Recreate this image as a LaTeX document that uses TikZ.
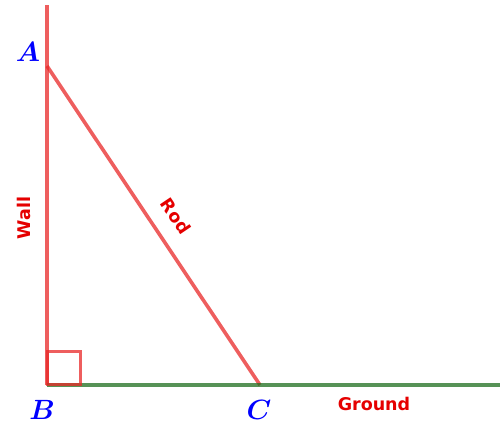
\documentclass[tikz,border=0pt]{standalone}
\usepackage{fontspec}
\newfontfamily\tagfont{DejaVu Sans}
\usetikzlibrary{positioning,calc}
\usepackage{xcolor}
\definecolor{rodred}{RGB}{232,40,40}
\definecolor{groundgreen}{RGB}{30,110,30}

\begin{document}
\begin{tikzpicture}[x=1pt,y=1pt,
    member/.style={line width=3.6pt,draw opacity=0.75},
    tag/.style={text=red!90!black,font=\tagfont\bfseries\fontsize{17.5}{20}\selectfont},
    point/.style={text=blue,font=\Huge\boldmath,scale=1.12}]
        \useasboundingbox (0,0) rectangle (504,426);
        \coordinate (B) at (47,41);
        \coordinate (A) at (47,360);
        \coordinate (top) at (47,421);
        \coordinate (C) at (260,41);
        \coordinate (end) at (500,41);
        \draw[member,rodred] (B) -- (top);
        \draw[member,rodred] (A) -- (C);
        \draw[member,groundgreen] (B) -- (end);
        \draw[rodred,line width=3pt,draw opacity=0.75]
          (B) rectangle ($(B)+(33,33)$);
        \node[point] (labA) at (28,374) {$A$};
        \node[point] (labB) at (42,16) {$B$};
        \node[point] (labC) at (259,16) {$C$};
        \node[tag,rotate=90] (wall) at (24,208) {Wall};
        \node[tag,rotate=-56] (rod) at (176,210) {Rod};
        \node[tag] (ground) at (374,22) {Ground};
      \end{tikzpicture}
\end{document}
